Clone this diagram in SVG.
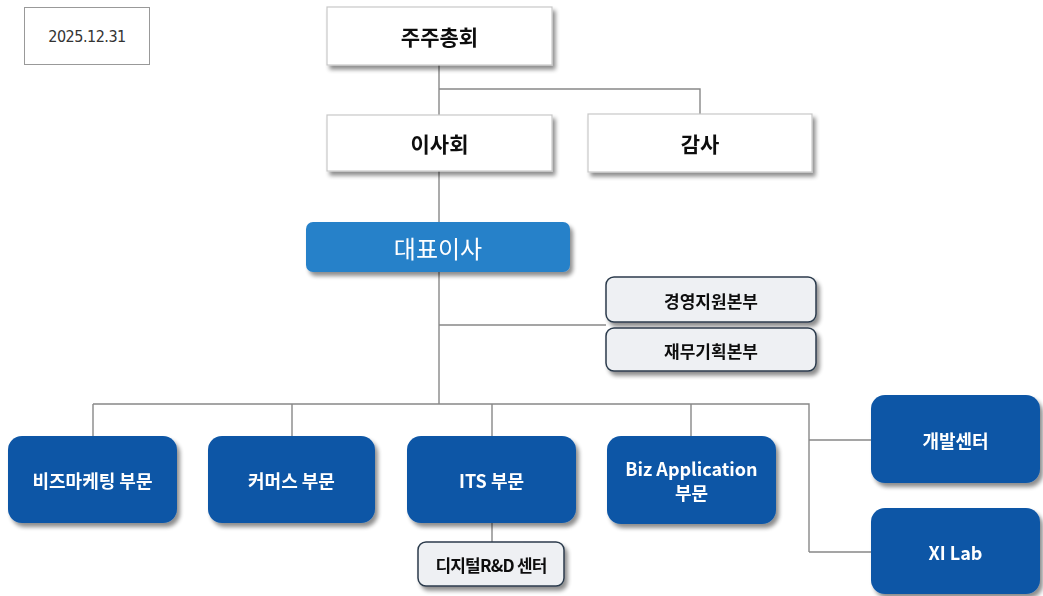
<svg xmlns="http://www.w3.org/2000/svg" width="1043" height="596" viewBox="0 0 1043 596">
<defs>
<filter id="sh" x="-10%" y="-10%" width="125%" height="140%">
<feGaussianBlur in="SourceAlpha" stdDeviation="2"/>
<feOffset dx="3" dy="4" result="b"/>
<feComponentTransfer><feFuncA type="linear" slope="0.45"/></feComponentTransfer>
<feMerge><feMergeNode/><feMergeNode in="SourceGraphic"/></feMerge>
</filter>
<style>
.w{fill:#fff;stroke:#c8c8c8;stroke-width:1.2}
.b{fill:#0c56a6}
.g{fill:#eef0f3;stroke:#2b3a4c;stroke-width:1.5}
.ln{stroke:#888;stroke-width:1.4;fill:none}
text{font-family:"Noto Sans CJK KR","Noto Sans",sans-serif;font-weight:bold;text-anchor:middle;dominant-baseline:central}
.tk{fill:#111;font-size:21px}
.tw{fill:#fff;font-size:18px}
.ts{fill:#111;font-size:17px}
</style>
</defs>
<g id="connectors">
<path class="ln" d="M439 65V222M439 89H700V114M439 272V404M439 325H606M93 404H809V552M93 404V436M292 404V436M492 404V436M691 404V436M492 523V542M809 440H871M809 552H871"/>
</g>
<g id="date"><rect x="24.5" y="7.5" width="125" height="57" fill="#fff" stroke="#999" stroke-width="1"/><text x="87" y="36" style="font-family:'DejaVu Sans Condensed','Noto Sans',sans-serif;font-weight:normal;font-size:16px;fill:#333;letter-spacing:-0.5px">2025.12.31</text></g>
<g id="n-shareholders" filter="url(#sh)"><rect class="w" x="327" y="7" width="225" height="58"/><text class="tk" x="439.5" y="36">주주총회</text></g>
<g id="n-board" filter="url(#sh)"><rect class="w" x="327" y="115" width="225" height="56"/><text class="tk" x="439.5" y="143">이사회</text></g>
<g id="n-audit" filter="url(#sh)"><rect class="w" x="588" y="114" width="224" height="58"/><text class="tk" x="700" y="143">감사</text></g>
<g id="n-ceo" filter="url(#sh)"><rect x="306" y="222" width="264" height="50" rx="7" fill="#2781c9"/><text x="438" y="247" style="fill:#fff;font-size:24px;font-weight:normal">대표이사</text></g>
<g id="n-mgmt" filter="url(#sh)"><rect class="g" x="606" y="277" width="210" height="45" rx="8"/><text class="ts" x="711" y="300">경영지원본부</text></g>
<g id="n-fin" filter="url(#sh)"><rect class="g" x="606" y="328" width="210" height="43" rx="8"/><text class="ts" x="711" y="350">재무기획본부</text></g>
<g id="n-bizmkt" filter="url(#sh)"><rect class="b" x="8" y="436" width="169" height="87" rx="14"/><text class="tw" x="92.5" y="480">비즈마케팅 부문</text></g>
<g id="n-commerce" filter="url(#sh)"><rect class="b" x="208" y="436" width="167" height="87" rx="14"/><text class="tw" x="291.5" y="480">커머스 부문</text></g>
<g id="n-its" filter="url(#sh)"><rect class="b" x="407" y="436" width="169" height="87" rx="14"/><text class="tw" x="491.5" y="480">ITS 부문</text></g>
<g id="n-bizapp" filter="url(#sh)"><rect class="b" x="607" y="436" width="169" height="88" rx="14"/><text class="tw" x="691.5" y="468">Biz Application</text><text class="tw" x="691.5" y="492">부문</text></g>
<g id="n-dev" filter="url(#sh)"><rect class="b" x="871" y="395" width="169" height="88" rx="14"/><text class="tw" x="955.5" y="440">개발센터</text></g>
<g id="n-xilab" filter="url(#sh)"><rect class="b" x="871" y="508" width="169" height="86" rx="14"/><text class="tw" x="955.5" y="552">XI Lab</text></g>
<g id="n-digital" filter="url(#sh)"><rect class="g" x="418" y="542" width="146" height="44" rx="8"/><text class="ts" x="491" y="564" style="letter-spacing:-0.8px">디지털R&amp;D 센터</text></g>
</svg>
